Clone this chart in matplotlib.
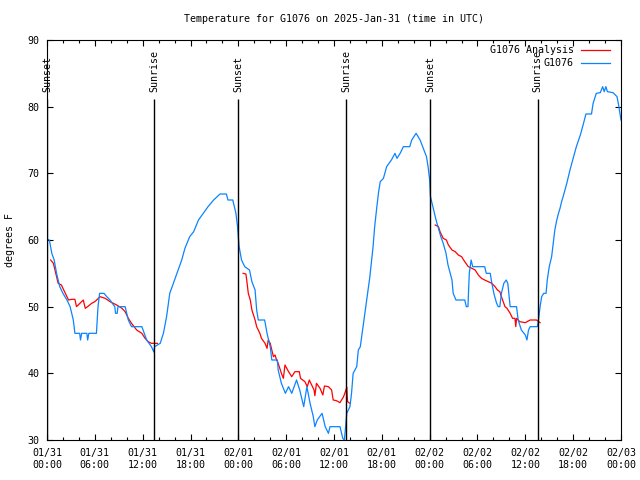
import numpy as np
import matplotlib
matplotlib.use("Agg")
import matplotlib.pyplot as plt

# hours since 2025-01-31 00:00 UTC
obs_hours = [
    0.0, 0.3, 0.6, 0.9, 1.2, 1.6, 2.0, 2.5, 2.9, 3.3, 3.5, 4.1, 4.2, 4.35, 5.0, 5.1,
    5.25, 6.2, 6.4, 6.6, 7.15, 7.5, 7.9, 8.5, 8.6, 8.8, 8.9, 9.8, 10.2, 10.6, 11.9,
    12.5, 13.1, 13.4, 13.5, 14.2, 14.6, 15.0, 15.4, 15.85, 16.3, 16.9, 17.3, 17.9,
    18.4, 19.0, 19.6, 20.2, 20.9, 21.7, 22.5, 22.7, 23.3, 23.7, 23.9, 24.1, 24.4,
    24.8, 25.4, 25.7, 26.1, 26.3, 26.5, 27.3, 27.6, 28.0, 28.2, 28.9, 29.0, 29.4,
    29.9, 30.3, 30.7, 31.3, 31.7, 32.2, 32.6, 33.0, 33.4, 33.6, 33.9, 34.5, 34.9,
    35.3, 35.5, 36.75, 37.1, 37.3, 37.4, 37.6, 38.0, 38.2, 38.4, 38.85, 39.05, 39.3,
    39.7, 40.1, 40.5, 40.9, 41.1, 41.4, 41.6, 41.8, 42.2, 42.6, 43.2, 43.65, 43.9,
    44.3, 44.7, 45.5, 45.75, 46.3, 46.8, 47.2, 47.6, 47.8, 48.0, 48.1, 48.4, 48.8,
    49.1, 49.4, 49.7, 50.05, 50.3, 50.8, 50.95, 51.3, 52.4, 52.6, 52.8, 52.97, 53.2,
    53.4, 54.9, 55.1, 55.6, 55.8, 56.1, 56.4, 56.6, 56.8, 57.0, 57.3, 57.6, 57.8,
    58.1, 58.9, 59.1, 59.5, 60.0, 60.2, 60.4, 60.6, 61.5, 61.65, 61.85, 62.05, 62.3,
    62.6, 62.75, 63.0, 63.3, 63.5, 63.7, 63.9, 64.1, 64.35, 64.55, 64.8, 65.2, 65.6,
    66.0, 66.4, 66.9, 67.3, 67.6, 68.3, 68.5, 68.9, 69.4, 69.7, 69.9, 70.1, 70.3,
    71.0, 71.5, 71.7, 72.0,
]
obs_temps = [
    60.1, 60.0, 58.0, 57.0, 55.0, 53.0, 52.0, 51.0, 50.0, 48.0, 46.0, 46.0, 45.0, 46.0, 46.0, 45.0,
    46.0, 46.0, 50.0, 52.0, 52.0, 51.5, 51.0, 50.0, 49.0, 49.0, 50.0, 50.0, 48.0, 47.0, 47.0,
    45.0, 44.0, 43.2, 44.0, 44.5, 46.0, 48.5, 52.0, 53.5, 55.0, 57.0, 58.75, 60.5,
    61.25, 63.0, 64.0, 65.0, 66.0, 66.9, 66.9, 66.0, 66.0, 64.0, 62.0, 59.0, 57.0,
    56.0, 55.5, 53.75, 52.5, 49.5, 48.0, 48.0, 46.0, 44.0, 42.0, 42.0, 40.5, 38.5,
    37.0, 38.0, 37.0, 39.0, 37.5, 35.0, 38.0, 35.5, 33.5, 32.0, 33.0, 34.0, 32.0,
    31.0, 32.0, 32.0, 30.25, 30.0, 31.25, 34.0, 35.0, 37.0, 40.0, 41.0, 43.5, 44.0,
    47.5, 51.0, 54.5, 59.0, 62.0, 65.25, 67.25, 68.75, 69.25, 71.0, 72.0, 73.0, 72.25,
    73.0, 74.0, 74.0, 75.0, 76.0, 75.0, 73.75, 72.5, 71.0, 69.0, 66.5, 65.0, 63.0,
    61.75, 60.5, 59.5, 58.0, 56.25, 54.0, 52.0, 51.0, 51.0, 50.0, 50.0, 55.0, 57.0,
    56.0, 56.0, 55.0, 55.0, 53.5, 51.75, 50.5, 50.0, 50.0, 52.0, 53.5, 54.0, 53.5,
    50.0, 50.0, 48.0, 46.5, 45.75, 45.0, 46.5, 47.0, 47.0, 48.0, 50.0, 51.5, 52.0,
    52.0, 54.0, 56.0, 57.5, 59.5, 61.5, 62.75, 63.75, 64.75, 65.75, 66.75, 68.5, 70.5,
    72.25, 74.0, 75.75, 77.5, 78.9, 78.9, 80.5, 82.0, 82.1, 83.0, 82.25, 83.0, 82.25,
    82.1, 81.5, 80.25, 78.0,
]

# analysis only exists at night; nan marks the gaps
ana_hours = [
    0.46, 0.8, 1.0, 1.4, 1.8, 2.3, 2.7, 3.1, 3.5, 3.7, 4.55, 4.8, 5.2, 5.6, 6.0,
    6.45, 6.65, 7.3, 7.9, 8.5, 8.95, 9.4, 9.8, 10.2, 10.6, 11.25, 11.9, 12.3, 12.7,
    13.1, 13.85, 19.0,
    24.6, 24.95, 25.05, 25.25, 25.5, 25.7, 25.9, 26.1, 26.3, 26.7, 26.9, 27.35,
    27.6, 27.75, 28.0, 28.2, 28.4, 28.6, 28.8, 29.0, 29.4, 29.65, 29.85, 30.3,
    30.7, 31.1, 31.65, 31.8, 32.35, 32.65, 32.9, 33.2, 33.5, 33.6, 33.8, 34.25,
    34.6, 34.8, 35.3, 35.7, 35.9, 36.3, 36.75, 37.2, 37.5, 37.6, 37.7, 38.0, 43.0,
    48.7, 49.1, 49.3, 49.5, 49.7, 50.1, 50.35, 50.8, 51.2, 51.6, 52.0, 52.4, 52.85,
    53.3, 53.7, 54.1, 54.5, 54.9, 55.35, 55.8, 56.2, 56.5, 56.8, 57.0, 57.45, 57.7,
    58.1, 58.4, 58.7, 58.8, 58.9, 59.3, 60.0, 60.6, 61.4, 61.85,
]
ana_temps = [
    57.0, 56.5, 55.5, 53.5, 53.25, 52.0, 51.0, 51.1, 51.1, 50.0, 51.0, 49.75, 50.1, 50.5, 50.75,
    51.25, 51.5, 51.25, 50.75, 50.4, 50.1, 49.75, 49.25, 48.25, 47.5, 46.5, 46.0, 45.25, 44.75,
    44.5, 44.5, np.nan,
    55.0, 54.9, 54.0, 52.0, 51.0, 49.5, 48.75, 48.0, 47.0, 46.0, 45.25, 44.5,
    43.75, 45.0, 44.5, 43.5, 42.5, 42.75, 42.0, 41.5, 40.0, 39.25, 41.25, 40.25,
    39.5, 40.25, 40.25, 39.25, 38.75, 38.0, 39.0, 38.25, 37.5, 36.65, 38.5, 37.75,
    36.75, 38.1, 38.0, 37.5, 36.0, 35.9, 35.6, 36.5, 37.5, 37.9, 35.75, 35.5, np.nan,
    62.25, 62.0, 61.25, 60.75, 60.25, 60.0, 59.25, 58.5, 58.25, 57.75, 57.5, 56.75, 56.0,
    55.75, 55.5, 54.75, 54.25, 54.0, 53.75, 53.5, 53.0, 52.5, 52.25, 51.5, 50.0, 49.75,
    49.0, 48.25, 48.25, 47.0, 48.25, 47.75, 47.6, 48.0, 48.0, 47.6,
]

event_names = ["Sunset", "Sunrise", "Sunset", "Sunrise", "Sunset", "Sunrise"]
event_hours = [0.0, 13.46, 24.0, 37.55, 48.09, 61.57]

tick_hours = list(range(0, 73, 6))
tick_labels = ["01/31\n00:00", "01/31\n06:00", "01/31\n12:00", "01/31\n18:00",
               "02/01\n00:00", "02/01\n06:00", "02/01\n12:00", "02/01\n18:00",
               "02/02\n00:00", "02/02\n06:00", "02/02\n12:00", "02/02\n18:00",
               "02/03\n00:00"]

plt.rcParams['font.family'] = ['DejaVu Sans Mono']
plt.rcParams['font.size'] = 7.2

fig = plt.figure(figsize=(6.4, 4.8), dpi=100)
ax = fig.add_axes([47 / 640, 40 / 480, 574 / 640, 400 / 480])

red = '#ff0000'
blue = '#0a84ff'
ax.plot(ana_hours, ana_temps, color=red, lw=0.9)
ax.plot(obs_hours, obs_temps, color=blue, lw=0.9)

for name, h in zip(event_names, event_hours):
    ax.vlines(h, 30, 81.15, color='black', lw=1.0)
    ax.text(h, 82.2, name, rotation=90, ha='center', va='bottom', clip_on=False)

ax.set_xlim(0, 72)
ax.set_ylim(30, 90)
ax.set_xticks(tick_hours)
ax.set_xticklabels(tick_labels)
ax.set_xticks(range(0, 73, 2), minor=True)
ax.set_yticks(range(30, 91, 10))
ax.tick_params(which='both', direction='in', top=True, right=True, width=0.8)
ax.tick_params(which='major', length=4)
ax.tick_params(which='minor', length=2.2)
ax.tick_params(axis='x', pad=6, labelsize=7.2)
ax.tick_params(axis='y', pad=5.5, labelsize=7.2)
for s in ax.spines.values():
    s.set_linewidth(0.8)

# legend, gnuplot style (right-aligned labels, sample to the right)
leg_rows = [("G1076 Analysis", red, 0.975), ("G1076", blue, 0.942)]
for label, c, yy in leg_rows:
    ax.text(0.918, yy, label, transform=ax.transAxes, ha='right', va='center')
    ax.plot([0.930, 0.981], [yy, yy], transform=ax.transAxes, color=c, lw=0.9, clip_on=False)

fig.text(334 / 640, 1 - 19 / 480, "Temperature for G1076 on 2025-Jan-31 (time in UTC)",
         ha='center', va='center')
fig.text(10 / 640, 0.5, "degrees F", rotation=90, ha='center', va='center')

fig.savefig("out.png", dpi=100)
